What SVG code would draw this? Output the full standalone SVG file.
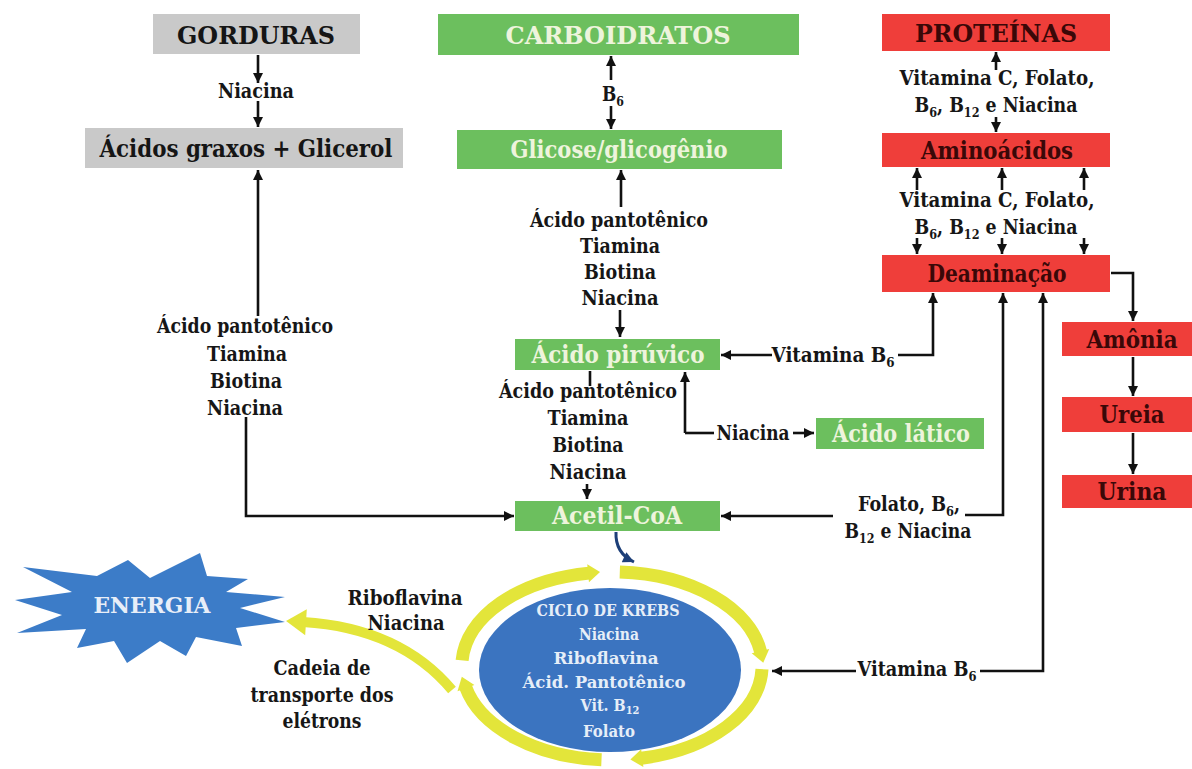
<svg xmlns="http://www.w3.org/2000/svg" width="1192" height="769" viewBox="0 0 1192 769">
<defs>
<style>
text{font-family:"DejaVu Serif Condensed","DejaVu Serif",serif;font-stretch:condensed;font-weight:bold;text-anchor:middle}
.lbl{font-size:20px;fill:#161616}
.box{font-size:24px}
.g{fill:#6cbf5e}
.r{fill:#ef3e3a}
.gy{fill:#c9c9c9}
.tg{fill:#eef4dc}
.tr{fill:#3a0808}
.tk{fill:#151515}
.ln{fill:none;stroke:#111;stroke-width:2.6}
.ar{marker-end:url(#ah)}
.ring{fill:none;stroke:#e3e53a;stroke-width:13;marker-end:url(#yh)}
.sub{font-size:13px}
.kt{font-size:16px;fill:#e6eef8}
</style>
<marker id="ah" viewBox="0 0 10 10" refX="10" refY="5" markerWidth="11" markerHeight="10" markerUnits="userSpaceOnUse" orient="auto"><path d="M0,0 L10,5 L0,10 z" fill="#111"/></marker>
<marker id="bh" viewBox="0 0 10 10" refX="10" refY="5" markerWidth="12" markerHeight="11" markerUnits="userSpaceOnUse" orient="auto"><path d="M0,0 L10,5 L0,10 z" fill="#1d3f78"/></marker>
<marker id="yh" viewBox="0 0 12 18" refX="1" refY="9" markerWidth="12" markerHeight="18" markerUnits="userSpaceOnUse" orient="auto" overflow="visible"><path d="M0,0 L12,9 L0,18 z" fill="#e3e53a"/></marker>
<marker id="eh" viewBox="0 0 20 26" refX="3" refY="13" markerWidth="20" markerHeight="26" markerUnits="userSpaceOnUse" orient="auto" overflow="visible"><path d="M0,0 L20,13 L0,26 z" fill="#e3e53a"/></marker>
</defs>

<g id="connectors">
<path class="ln ar" d="M258 55 V83"/>
<path class="ln ar" d="M258 101 V127"/>
<path class="ln ar" d="M611 80 V56"/>
<path class="ln ar" d="M611 106 V129"/>
<path class="ln ar" d="M621 207 V170"/>
<path class="ln ar" d="M620 310 V337"/>
<path class="ln" d="M590 371 V386"/>
<path class="ln ar" d="M587 484 V499"/>
<path class="ln ar" d="M685 433 V372"/>
<path class="ln" d="M685 433 H714"/>
<path class="ln ar" d="M793 433 H814"/>
<path class="ln ar" d="M772 355 H721"/>
<path class="ln ar" d="M898 355 H933 V293"/>
<path class="ln ar" d="M996 70 V52"/>
<path class="ln ar" d="M996 117 V132"/>
<path class="ln ar" d="M917 190 V168"/>
<path class="ln ar" d="M1002 190 V168"/>
<path class="ln ar" d="M1084 190 V168"/>
<path class="ln ar" d="M917 238 V254"/>
<path class="ln ar" d="M1002 238 V254"/>
<path class="ln ar" d="M1084 238 V254"/>
<path class="ln ar" d="M1111 273 H1133 V321"/>
<path class="ln ar" d="M1133 357 V396"/>
<path class="ln ar" d="M1133 433 V474"/>
<path class="ln ar" d="M833 516 H721"/>
<path class="ln ar" d="M965 515 H1003 V293"/>
<path class="ln ar" d="M856 671 H772"/>
<path class="ln ar" d="M980 671 H1043 V293"/>
<path class="ln ar" d="M258 316 V170"/>
<path class="ln ar" d="M246 417 V516 H514"/>
<path fill="none" stroke="#1d3f78" stroke-width="3" marker-end="url(#bh)" d="M616 532 Q615 553 634 562"/>
<path fill="none" stroke="#e3e53a" stroke-width="10" marker-end="url(#eh)" d="M452 690 Q400 628 303 622"/>
</g>

<g id="gorduras"><rect class="gy" x="153" y="14" width="207" height="40"/><text class="box tk" x="256" y="44" textLength="158" lengthAdjust="spacingAndGlyphs">GORDURAS</text></g>
<g id="acidos-graxos"><rect class="gy" x="85" y="128" width="318" height="40"/><text class="box tk" x="246" y="157" textLength="293" lengthAdjust="spacingAndGlyphs">Ácidos graxos + Glicerol</text></g>
<g id="carboidratos"><rect class="g" x="438" y="14" width="361" height="41"/><text class="box tg" x="618" y="44" textLength="225" lengthAdjust="spacingAndGlyphs">CARBOIDRATOS</text></g>
<g id="glicose"><rect class="g" x="457" y="130" width="325" height="39"/><text class="box tg" x="619" y="158" textLength="217" lengthAdjust="spacingAndGlyphs">Glicose/glicogênio</text></g>
<g id="acido-piruvico"><rect class="g" x="515" y="339" width="205" height="31"/><text class="box tg" x="618" y="363" font-size="23" textLength="173" lengthAdjust="spacingAndGlyphs">Ácido pirúvico</text></g>
<g id="acido-latico"><rect class="g" x="816" y="418" width="168" height="31"/><text class="box tg" x="901" y="442" font-size="23" textLength="138" lengthAdjust="spacingAndGlyphs">Ácido lático</text></g>
<g id="acetil-coa"><rect class="g" x="515" y="501" width="205" height="30"/><text class="box tg" x="617" y="524" font-size="23" textLength="130" lengthAdjust="spacingAndGlyphs">Acetil-CoA</text></g>
<g id="proteinas"><rect class="r" x="882" y="14" width="228" height="37"/><text class="box tr" x="996" y="42" textLength="162" lengthAdjust="spacingAndGlyphs">PROTEÍNAS</text></g>
<g id="aminoacidos"><rect class="r" x="882" y="133" width="228" height="34"/><text class="box tr" x="997" y="159" textLength="152" lengthAdjust="spacingAndGlyphs">Aminoácidos</text></g>
<g id="deaminacao"><rect class="r" x="882" y="255" width="228" height="37"/><text class="box tr" x="997" y="282" textLength="139" lengthAdjust="spacingAndGlyphs">Deaminação</text></g>
<g id="amonia"><rect class="r" x="1062" y="322" width="130" height="34"/><text class="box tr" x="1132" y="348" font-size="23" textLength="91" lengthAdjust="spacingAndGlyphs">Amônia</text></g>
<g id="ureia"><rect class="r" x="1062" y="397" width="130" height="35"/><text class="box tr" x="1132" y="423" font-size="23" textLength="65" lengthAdjust="spacingAndGlyphs">Ureia</text></g>
<g id="urina"><rect class="r" x="1062" y="475" width="130" height="33"/><text class="box tr" x="1132" y="500" font-size="23" textLength="69" lengthAdjust="spacingAndGlyphs">Urina</text></g>

<g id="energia">
<polygon fill="#3c7cc8" points="15,600 72,592 23,567 97,576 128,560 150,578 200,553 207,576 248,579 226,592 285,597 240,608 285,622 236,628 242,646 196,637 186,656 160,641 127,663 114,641 77,648 86,629 17,633 62,615"/>
<text x="152" y="613" font-size="22" fill="#e8eef8" textLength="117" lengthAdjust="spacingAndGlyphs">ENERGIA</text>
</g>

<g id="krebs">
<ellipse cx="610" cy="670" rx="131" ry="82" fill="#3b74c0"/>
<path class="ring" d="M462.1 660.4 A150 94 0 0 1 589.1 573.1"/>
<path class="ring" d="M619.8 572.0 A150 94 0 0 1 760.7 652.1"/>
<path class="ring" d="M762.0 669.2 A150 94 0 0 1 641.3 758.2"/>
<path class="ring" d="M601.5 759.8 A150 94 0 0 1 465.6 687.1"/>
<text class="kt" x="608" y="616" textLength="143" lengthAdjust="spacingAndGlyphs">CICLO DE KREBS</text>
<text class="kt" x="609" y="640" textLength="60" lengthAdjust="spacingAndGlyphs">Niacina</text>
<text class="kt" x="606" y="664" textLength="105" lengthAdjust="spacingAndGlyphs">Riboflavina</text>
<text class="kt" x="604" y="688" textLength="163" lengthAdjust="spacingAndGlyphs">Ácid. Pantotênico</text>
<text class="kt" x="610" y="711" font-size="15">Vit. B<tspan font-size="11" dy="3">12</tspan></text>
<text class="kt" x="609" y="737" textLength="52" lengthAdjust="spacingAndGlyphs">Folato</text>
</g>

<g id="labels">
<text class="lbl" x="256" y="98" textLength="76" lengthAdjust="spacingAndGlyphs">Niacina</text>
<text class="lbl" x="613" y="101" textLength="22" lengthAdjust="spacingAndGlyphs">B<tspan class="sub" dy="5">6</tspan></text>
<text class="lbl" x="619" y="227" textLength="178" lengthAdjust="spacingAndGlyphs">Ácido pantotênico</text>
<text class="lbl" x="620" y="253" textLength="80" lengthAdjust="spacingAndGlyphs">Tiamina</text>
<text class="lbl" x="620" y="279" textLength="72" lengthAdjust="spacingAndGlyphs">Biotina</text>
<text class="lbl" x="620" y="305" textLength="77" lengthAdjust="spacingAndGlyphs">Niacina</text>
<text class="lbl" x="588" y="398" textLength="178" lengthAdjust="spacingAndGlyphs">Ácido pantotênico</text>
<text class="lbl" x="588" y="425" textLength="81" lengthAdjust="spacingAndGlyphs">Tiamina</text>
<text class="lbl" x="588" y="452" textLength="71" lengthAdjust="spacingAndGlyphs">Biotina</text>
<text class="lbl" x="588" y="479" textLength="77" lengthAdjust="spacingAndGlyphs">Niacina</text>
<text class="lbl" x="245" y="333" textLength="176" lengthAdjust="spacingAndGlyphs">Ácido pantotênico</text>
<text class="lbl" x="247" y="361" textLength="80" lengthAdjust="spacingAndGlyphs">Tiamina</text>
<text class="lbl" x="246" y="388" textLength="72" lengthAdjust="spacingAndGlyphs">Biotina</text>
<text class="lbl" x="245" y="415" textLength="76" lengthAdjust="spacingAndGlyphs">Niacina</text>
<text class="lbl" x="753" y="440" textLength="73" lengthAdjust="spacingAndGlyphs">Niacina</text>
<text class="lbl" x="833" y="362" textLength="123" lengthAdjust="spacingAndGlyphs">Vitamina B<tspan class="sub" dy="5">6</tspan></text>
<text class="lbl" x="997" y="85" textLength="195" lengthAdjust="spacingAndGlyphs">Vitamina C, Folato,</text>
<text class="lbl" x="996" y="112" textLength="163" lengthAdjust="spacingAndGlyphs">B<tspan class="sub" dy="5">6</tspan><tspan dy="-5">, B</tspan><tspan class="sub" dy="5">12</tspan><tspan dy="-5"> e Niacina</tspan></text>
<text class="lbl" x="997" y="207" textLength="195" lengthAdjust="spacingAndGlyphs">Vitamina C, Folato,</text>
<text class="lbl" x="996" y="234" textLength="163" lengthAdjust="spacingAndGlyphs">B<tspan class="sub" dy="5">6</tspan><tspan dy="-5">, B</tspan><tspan class="sub" dy="5">12</tspan><tspan dy="-5"> e Niacina</tspan></text>
<text class="lbl" x="909" y="511" textLength="102" lengthAdjust="spacingAndGlyphs">Folato, B<tspan class="sub" dy="5">6</tspan><tspan dy="-5">,</tspan></text>
<text class="lbl" x="908" y="538" textLength="127" lengthAdjust="spacingAndGlyphs">B<tspan class="sub" dy="5">12</tspan><tspan dy="-5"> e Niacina</tspan></text>
<text class="lbl" x="917" y="676" textLength="119" lengthAdjust="spacingAndGlyphs">Vitamina B<tspan class="sub" dy="5">6</tspan></text>
<text class="lbl" x="405" y="605" textLength="115" lengthAdjust="spacingAndGlyphs">Riboflavina</text>
<text class="lbl" x="406" y="630" textLength="77" lengthAdjust="spacingAndGlyphs">Niacina</text>
<text class="lbl" x="322" y="675" textLength="97" lengthAdjust="spacingAndGlyphs">Cadeia de</text>
<text class="lbl" x="322" y="702" textLength="143" lengthAdjust="spacingAndGlyphs">transporte dos</text>
<text class="lbl" x="322" y="728" textLength="79" lengthAdjust="spacingAndGlyphs">elétrons</text>
</g>
</svg>
